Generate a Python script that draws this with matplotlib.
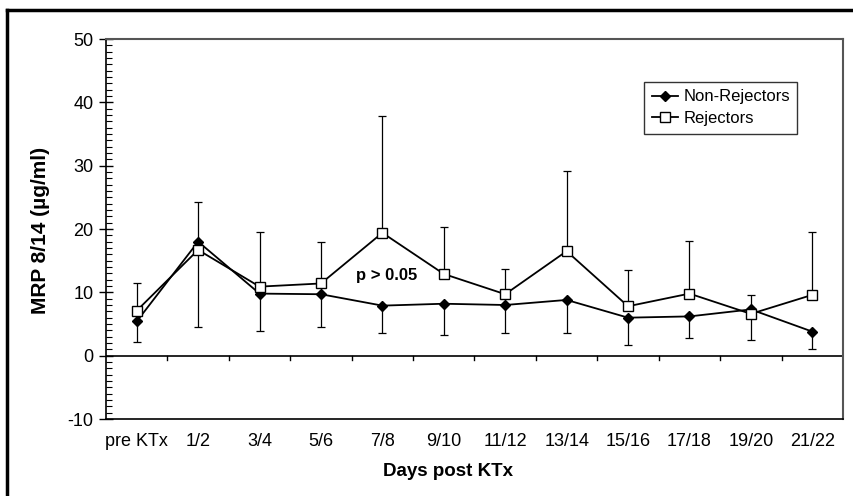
import matplotlib
matplotlib.use('Agg')
import matplotlib.pyplot as plt
from matplotlib.lines import Line2D
from matplotlib.ticker import MultipleLocator
import numpy as np

plt.rcParams['font.family'] = ['Liberation Sans', 'DejaVu Sans']
plt.rcParams['axes.unicode_minus'] = False

# ── data ──
days = ['pre KTx', '1/2', '3/4', '5/6', '7/8', '9/10', '11/12',
        '13/14', '15/16', '17/18', '19/20', '21/22']
non_rej = [5.4, 18.0, 9.8, 9.7, 7.9, 8.2, 8.0, 8.8, 6.0, 6.2, 7.3, 3.8]
non_rej_low = [2.2, 4.6, 3.9, 4.6, 3.6, 3.3, 3.5, 3.6, 1.7, 2.8, 2.4, 1.0]
rej = [7.1, 16.7, 10.9, 11.4, 19.4, 12.9, 9.7, 16.5, 7.8, 9.8, 6.6, 9.6]
rej_high = [11.5, 24.2, 19.5, 17.9, 37.8, 20.3, 13.7, 29.2, 13.5, 18.1, 9.6, 19.5]

W, H = 854, 496
fig = plt.figure(figsize=(W / 100, H / 100), dpi=100)
fig.patch.set_facecolor('white')
ax = fig.add_axes([106 / W, 1 - 419 / H, (843 - 106) / W, (419 - 39) / H])

x = np.arange(len(days))
nr = np.array(non_rej)
r = np.array(rej)

# error bars: non-rejectors down only, rejectors up only
ax.errorbar(x, nr, yerr=[nr - np.array(non_rej_low), np.zeros_like(nr)],
            fmt='none', ecolor='black', elinewidth=0.9, capsize=3, capthick=0.9, zorder=2)
ax.errorbar(x, r, yerr=[np.zeros_like(r), np.array(rej_high) - r],
            fmt='none', ecolor='black', elinewidth=0.9, capsize=3, capthick=0.9, zorder=2)

ax.plot(x, nr, color='black', lw=1.3, marker='D', ms=5.5, mfc='black', mec='black',
        label='Non-Rejectors', zorder=3)
ax.plot(x, r, color='black', lw=1.3, marker='s', ms=6.5, mfc='white', mec='black',
        mew=1.0, label='Rejectors', zorder=4)

ax.set_xlim(-0.5, len(days) - 0.5)
ax.set_ylim(-10, 50)

# zero line with category separator ticks
ax.axhline(0, color='black', lw=1.2, zorder=1)
for b in np.arange(0.5, len(days) - 0.5, 1):
    ax.plot([b, b], [0, -0.7], color='black', lw=1.0, zorder=1)

ax.set_xticks(x)
ax.set_xticklabels(days, fontsize=13)
ax.tick_params(axis='x', length=0, pad=10)

ax.yaxis.set_major_locator(MultipleLocator(10))
ax.yaxis.set_minor_locator(MultipleLocator(1))
ax.tick_params(axis='y', which='major', direction='inout', length=10, width=1.0,
               labelsize=13, pad=4)
ax.tick_params(axis='y', which='minor', direction='in', length=4, width=0.8)

for s in ['left', 'bottom']:
    ax.spines[s].set_color('black')
    ax.spines[s].set_linewidth(1.2)
for s in ['top', 'right']:
    ax.spines[s].set_color('#555555')
    ax.spines[s].set_linewidth(1.5)

ax.text(4.07, 12.6, 'p > 0.05', ha='center', va='center', fontsize=12,
        fontweight='bold')

leg = ax.legend(loc='upper left', bbox_to_anchor=(0.730, 0.887), fontsize=12,
                frameon=True, fancybox=False, edgecolor='black', handlelength=1.6,
                handletextpad=0.3, borderpad=0.45, labelspacing=0.4,
                borderaxespad=0)
leg.get_frame().set_linewidth(1.0)

fig.text(41 / W, 1 - 230 / H, 'MRP 8/14 (µg/ml)', rotation=90, ha='center',
         va='center', fontsize=15, fontweight='bold')
fig.text(448 / W, 1 - 472 / H, 'Days post KTx', ha='center', va='center',
         fontsize=13.5, fontweight='bold')

# outer frame (only left and top visible)
fig.add_artist(Line2D([7 / W, 7 / W], [0, 1 - 10 / H], transform=fig.transFigure,
                      color='black', lw=2.5))
fig.add_artist(Line2D([7 / W, 1], [1 - 10 / H, 1 - 10 / H], transform=fig.transFigure,
                      color='black', lw=2.5))

fig.savefig('out.png', dpi=100, facecolor='white')
